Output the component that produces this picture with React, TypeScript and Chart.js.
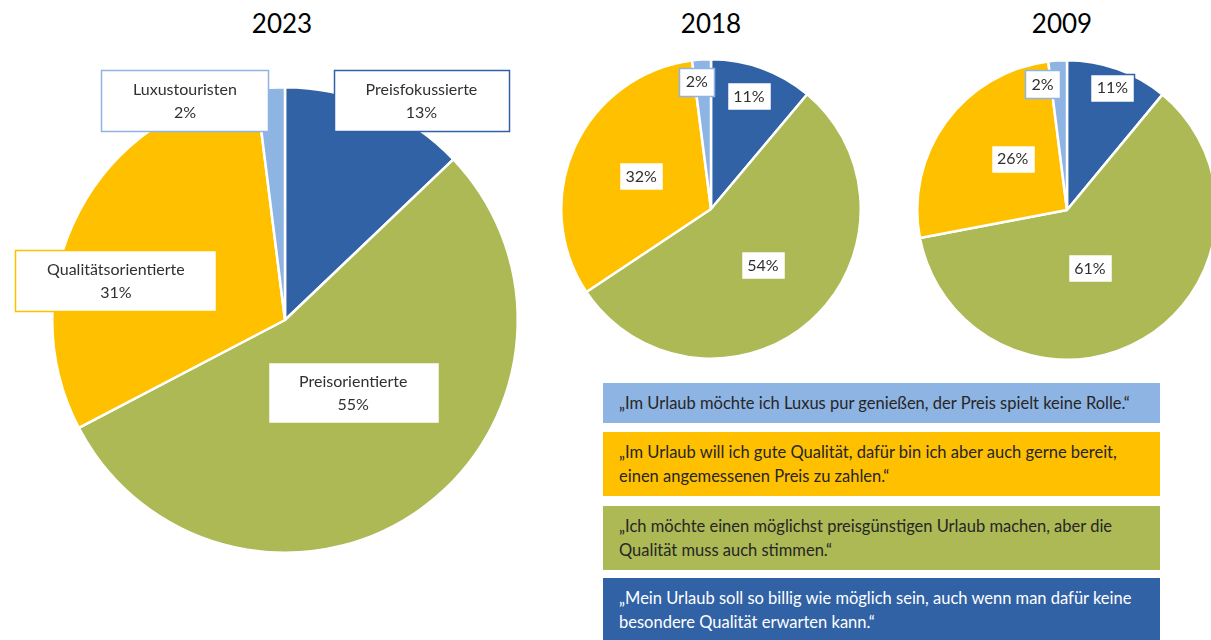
import React, { useEffect, useRef } from 'react';
import { Chart, registerables } from 'chart.js';

Chart.register(...registerables);

// ---- data ----
const segments = ['Preisfokussierte', 'Preisorientierte', 'Qualitätsorientierte', 'Luxustouristen'];
const segmentColors = ['#3162A6', '#ACB954', '#FFC000', '#8EB4E3'];
const values2023 = [13, 55, 31, 2];
const values2018 = [11, 54, 32, 2];
const values2009 = [11, 61, 26, 2];
const years = ['2023', '2018', '2009'];

const statementLines = [
  ['„Im Urlaub möchte ich Luxus pur genießen, der Preis spielt keine Rolle.“'],
  ['„Im Urlaub will ich gute Qualität, dafür bin ich aber auch gerne bereit,', 'einen angemessenen Preis zu zahlen.“'],
  ['„Ich möchte einen möglichst preisgünstigen Urlaub machen, aber die', 'Qualität muss auch stimmen.“'],
  ['„Mein Urlaub soll so billig wie möglich sein, auch wenn man dafür keine', 'besondere Qualität erwarten kann.“'],
];
const statementColors = ['#8EB4E3', '#FFC000', '#ACB954', '#3162A6'];
const statementTextColors = ['#262626', '#262626', '#262626', '#FFFFFF'];

const FONT = 'Lato, "Open Sans", sans-serif';

const boxLabelPlugin = {
  id: 'boxLabels',
  afterDatasetsDraw(chart: any, _args: any, opts: any) {
    const { ctx } = chart;
    const meta = chart.getDatasetMeta(0);
    const ds = chart.data.datasets[0];
    meta.data.forEach((arc: any, i: number) => {
      const p = arc.getProps(['x', 'y', 'startAngle', 'endAngle', 'outerRadius'], true);
      const ang = (p.startAngle + p.endAngle) / 2 + (opts.deltas[i] * Math.PI) / 180;
      const r = p.outerRadius * opts.radii[i];
      const cx = p.x + Math.cos(ang) * r;
      const cy = p.y + Math.sin(ang) * r;
      const pct = ds.data[i] + '%';
      const lines = opts.showName ? [chart.data.labels[i], pct] : [pct];
      ctx.save();
      ctx.font = `${opts.fontSize}px ${FONT}`;
      const tw = Math.max(...lines.map((l: string) => ctx.measureText(l).width));
      const w = Math.round(tw + 2 * opts.padX);
      const h = opts.boxH;
      const bx = Math.round(cx - w / 2) + 0.5;
      const by = Math.round(cy - h / 2) + 0.5;
      ctx.fillStyle = '#FFFFFF';
      ctx.fillRect(bx, by, w, h);
      ctx.strokeStyle = ds.backgroundColor[i];
      ctx.lineWidth = 1.5;
      ctx.strokeRect(bx, by, w, h);
      ctx.fillStyle = '#303030';
      ctx.textAlign = 'center';
      ctx.textBaseline = 'middle';
      lines.forEach((l: string, k: number) => {
        ctx.fillText(l, cx, cy + (k - (lines.length - 1) / 2) * opts.lineH + opts.textDy);
      });
      ctx.restore();
    });
  },
};

type PieProps = {
  values: number[];
  left: number;
  top: number;
  width: number;
  height: number;
  padding: { left: number; right: number; top: number; bottom: number };
  label: any;
};

function Pie({ values, left, top, width, height, padding, label }: PieProps) {
  const ref = useRef<HTMLCanvasElement | null>(null);
  useEffect(() => {
    if (!ref.current) return;
    const chart = new Chart(ref.current, {
      type: 'pie',
      data: {
        labels: segments,
        datasets: [
          {
            data: values,
            backgroundColor: segmentColors,
            borderColor: '#FFFFFF',
            borderWidth: 2.5,
          },
        ],
      },
      options: {
        animation: false,
        responsive: false,
        maintainAspectRatio: false,
        events: [],
        layout: { padding },
        plugins: {
          legend: { display: false },
          tooltip: { enabled: false },
          title: { display: false },
          boxLabels: label,
        } as any,
      },
      plugins: [boxLabelPlugin],
    });
    return () => chart.destroy();
  }, []);
  return (
    <canvas
      ref={ref}
      width={width}
      height={height}
      style={{ position: 'absolute', left, top, width, height }}
    />
  );
}

const titleCenters = [282, 711, 1062];

export default function App() {
  const legendTops = [383, 432, 506, 578];
  const legendHeights = [40, 64, 64, 62];
  return (
    <div
      style={{
        position: 'fixed',
        left: 0,
        top: 0,
        width: 1211,
        height: 640,
        overflow: 'hidden',
        background: '#FFFFFF',
        fontFamily: FONT,
      }}
    >
      {years.map((y, i) => (
        <div
          key={y}
          style={{
            position: 'absolute',
            left: titleCenters[i] - 80,
            width: 160,
            top: 7,
            textAlign: 'center',
            fontSize: 26,
            lineHeight: '32px',
            color: '#000000',
          }}
        >
          {y}
        </div>
      ))}

      <Pie
        values={values2023}
        left={0}
        top={40}
        width={570}
        height={560}
        padding={{ left: 51, right: 51, top: 46, bottom: 46 }}
        label={{
          showName: true,
          deltas: [8.7, -7.6, -14.5, -20.9],
          radii: [1.11, 0.428, 0.746, 1.038],
          fontSize: 16,
          padX: 31.5,
          boxH: 61,
          lineH: 23.5,
          textDy: 1,
        }}
      />
      <Pie
        values={values2018}
        left={560}
        top={58}
        width={302}
        height={302}
        padding={{ left: 0, right: 0, top: 0, bottom: 0 }}
        label={{
          showName: false,
          deltas: [-1.4, -0.8, 0.7, -2.7],
          radii: [0.795, 0.512, 0.516, 0.855],
          fontSize: 16,
          padX: 6.5,
          boxH: 28,
          lineH: 0,
          textDy: 0.5,
        }}
      />
      <Pie
        values={values2009}
        left={916}
        top={59}
        width={302}
        height={302}
        padding={{ left: 0, right: 0, top: 0, bottom: 0 }}
        label={{
          showName: false,
          deltas: [0.6, 9.1, 7.4, -7.4],
          radii: [0.871, 0.419, 0.5, 0.856],
          fontSize: 16,
          padX: 6.5,
          boxH: 28,
          lineH: 0,
          textDy: 0.5,
        }}
      />

      {statementLines.map((lines, i) => (
        <div
          key={i}
          style={{
            position: 'absolute',
            left: 603,
            top: legendTops[i],
            width: 557,
            height: legendHeights[i],
            boxSizing: 'border-box',
            padding: '8px 0 8px 16px',
            background: statementColors[i],
            color: statementTextColors[i],
            fontSize: 16.5,
            lineHeight: '24px',
            whiteSpace: 'nowrap',
          }}
        >
          {lines.map((l, k) => (
            <div key={k}>{l}</div>
          ))}
        </div>
      ))}
    </div>
  );
}
